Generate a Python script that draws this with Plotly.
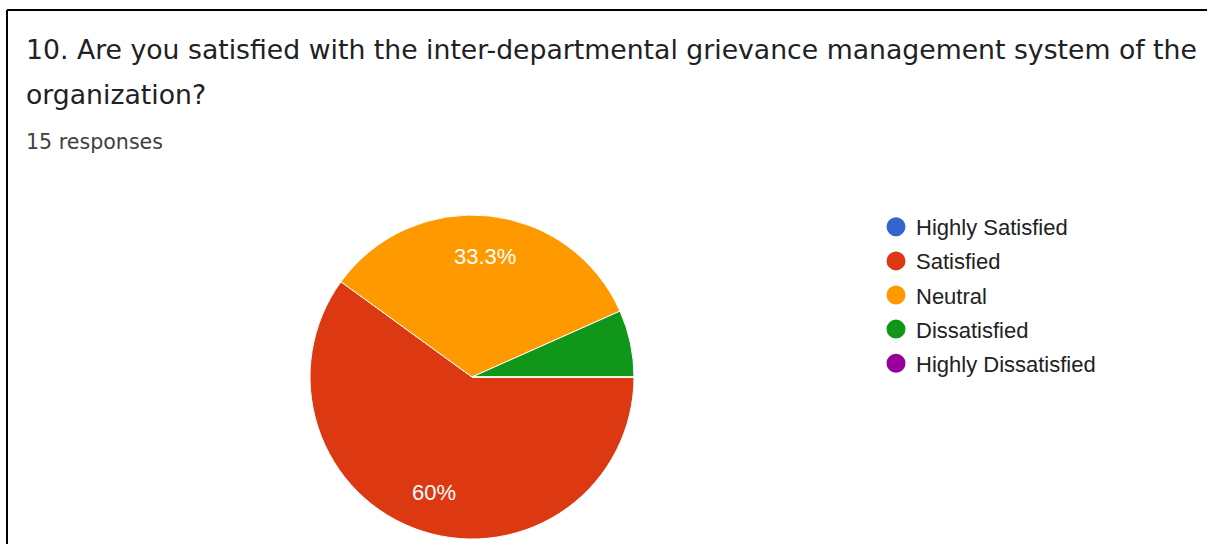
import math
import plotly.graph_objects as go

W, H = 1207, 544

title_lines = [
    "10. Are you satisfied with the inter-departmental grievance management system of the",
    "organization?",
]
subtitle = "15 responses"

categories = ["Highly Satisfied", "Satisfied", "Neutral", "Dissatisfied", "Highly Dissatisfied"]
counts = [0, 9, 5, 1, 0]
colors = ["#3366cc", "#dc3912", "#ff9900", "#109618", "#990099"]

total = sum(counts)


def px_x(x):
    return x / W


def px_y(y):
    return 1 - y / H


fig = go.Figure()

# pie geometry (pixels)
cx, cy, r = 472, 377, 162
fig.add_trace(go.Pie(
    labels=categories,
    values=counts,
    marker=dict(colors=colors, line=dict(color="white", width=1)),
    sort=False,
    direction="clockwise",
    rotation=90,
    textinfo="none",
    showlegend=False,
    hoverinfo="label+percent",
    domain=dict(x=[px_x(cx - r), px_x(cx + r)], y=[px_y(cy + r), px_y(cy - r)]),
))

for cat, col in zip(categories, colors):
    fig.add_trace(go.Scatter(
        x=[None], y=[None], mode="markers", name=cat,
        marker=dict(color=col, size=16, symbol="circle", line=dict(color=col, width=3)),
        legendgroup=cat, showlegend=True,
    ))

annotations = [
    dict(text=title_lines[0], x=px_x(24), y=px_y(49), xanchor="left", yanchor="middle",
         font=dict(size=26.7, color="#202124", family="DejaVu Sans")),
    dict(text=title_lines[1], x=px_x(24), y=px_y(94), xanchor="left", yanchor="middle",
         font=dict(size=26.7, color="#202124", family="DejaVu Sans")),
    dict(text=subtitle, x=px_x(24), y=px_y(142), xanchor="left", yanchor="middle",
         font=dict(size=20.6, color="#3c4043", family="DejaVu Sans")),
]

# slice percentage labels (Google-style: only for slices >= 10%), placed at
# the mid-angle of each slice, 0.75 of the radius from the centre
cum = 0
for cat, c in zip(categories, counts):
    frac = c / total
    mid = cum + frac / 2
    cum += frac
    if frac < 0.1:
        continue
    ang = math.radians(-360 * mid)  # start at 3 o'clock, clockwise
    lx = cx + 0.75 * r * math.cos(ang)
    ly = cy - 0.75 * r * math.sin(ang)
    pct = round(frac * 100, 1)
    label = (f"{pct:g}") + "%"
    annotations.append(dict(text=label, x=px_x(lx), y=px_y(ly), xanchor="center", yanchor="middle",
                            font=dict(size=22, color="white", family="Liberation Sans, Arial")))

for a in annotations:
    a.update(xref="paper", yref="paper", showarrow=False)

fig.update_layout(
    width=W, height=H,
    margin=dict(l=0, r=0, t=0, b=0),
    paper_bgcolor="white", plot_bgcolor="white",
    xaxis=dict(visible=False), yaxis=dict(visible=False),
    annotations=annotations,
    legend=dict(
        x=px_x(876), y=px_y(206), xanchor="left", yanchor="top",
        font=dict(size=22, color="#222222", family="Liberation Sans, Arial"),
        tracegroupgap=2.5, itemsizing="trace", bgcolor="rgba(0,0,0,0)",
    ),
    shapes=[
        dict(type="line", xref="paper", yref="paper", x0=px_x(7), x1=1, y0=px_y(10), y1=px_y(10),
             line=dict(color="black", width=2)),
        dict(type="line", xref="paper", yref="paper", x0=px_x(7), x1=px_x(7), y0=px_y(10), y1=0,
             line=dict(color="black", width=2)),
    ],
)

fig.write_html("out.html")
